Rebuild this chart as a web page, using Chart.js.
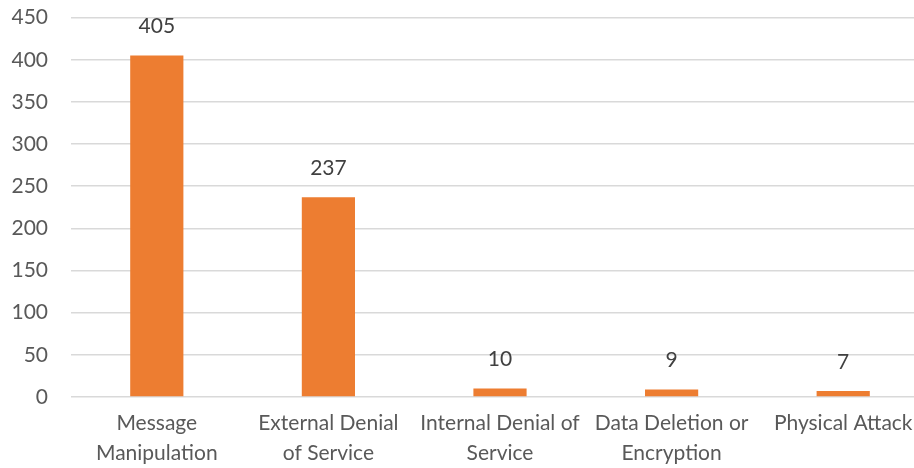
<!DOCTYPE html>
<html>
<head>
<meta charset="utf-8">
<script src="https://cdn.jsdelivr.net/npm/chart.js@4"></script>
<style>
  html, body { margin: 0; padding: 0; background: #fff; overflow: hidden; }
  #wrap { width: 929px; height: 486px; position: relative; top: -18px; }
</style>
</head>
<body>
<div id="wrap"><canvas id="attackChart"></canvas></div>
<script>
var categories = [
  ["Message", "Manipulation"],
  ["External Denial", "of Service"],
  ["Internal Denial of", "Service"],
  ["Data Deletion or", "Encryption"],
  ["Physical Attack"]
];
var attackCounts = [405, 237, 10, 9, 7];
var tickValues = [0, 50, 100, 150, 200, 250, 300, 350, 400, 450];

var fontFamily = "Lato, 'Open Sans', sans-serif";

// draw the value above each bar, like Excel data labels
var valueLabels = {
  id: "valueLabels",
  afterDatasetsDraw: function(chart) {
    var ctx = chart.ctx;
    var meta = chart.getDatasetMeta(0);
    ctx.save();
    ctx.fillStyle = "#404040";
    ctx.font = "21px " + fontFamily;
    ctx.textAlign = "center";
    ctx.textBaseline = "middle";
    meta.data.forEach(function(bar, i) {
      ctx.fillText(String(attackCounts[i]), bar.x, bar.y - 29);
    });
    ctx.restore();
  }
};

const dataAttacks = {
  labels: categories,
  datasets: [
    {
      label: "Attacks",
      data: attackCounts,
      backgroundColor: "#ED7D31",
      barPercentage: 0.62,
      categoryPercentage: 0.5,
    },
  ],
};

const configAttacks = {
  type: "bar",
  data: dataAttacks,
  options: {
    responsive: true,
    maintainAspectRatio: false,
    animation: false,
    layout: { padding: 0 },
    plugins: {
      legend: { display: false },
      tooltip: { enabled: false },
    },
    scales: {
      x: {
        afterFit: function(axis) {
          axis.height = 71;
        },
        grid: { display: false, drawTicks: false },
        border: { display: false },
        ticks: {
          color: "#595959",
          font: { family: fontFamily, size: 21, lineHeight: 1.4 },
          padding: 12,
          maxRotation: 0,
          autoSkip: false,
        },
      },
      y: {
        min: 0,
        max: 450,
        afterBuildTicks: function(axis) {
          axis.ticks = tickValues.map(function(v) { return { value: v }; });
        },
        afterFit: function(axis) {
          axis.width = 71;
        },
        grid: { color: "#D9D9D9", lineWidth: 1.5, drawTicks: false },
        border: { display: false },
        ticks: {
          color: "#595959",
          font: { family: fontFamily, size: 21 },
          padding: 23,
        },
      },
    },
  },
  plugins: [valueLabels],
};

var attackChart = new Chart(
  document.getElementById("attackChart"),
  configAttacks
);
</script>
</body>
</html>
